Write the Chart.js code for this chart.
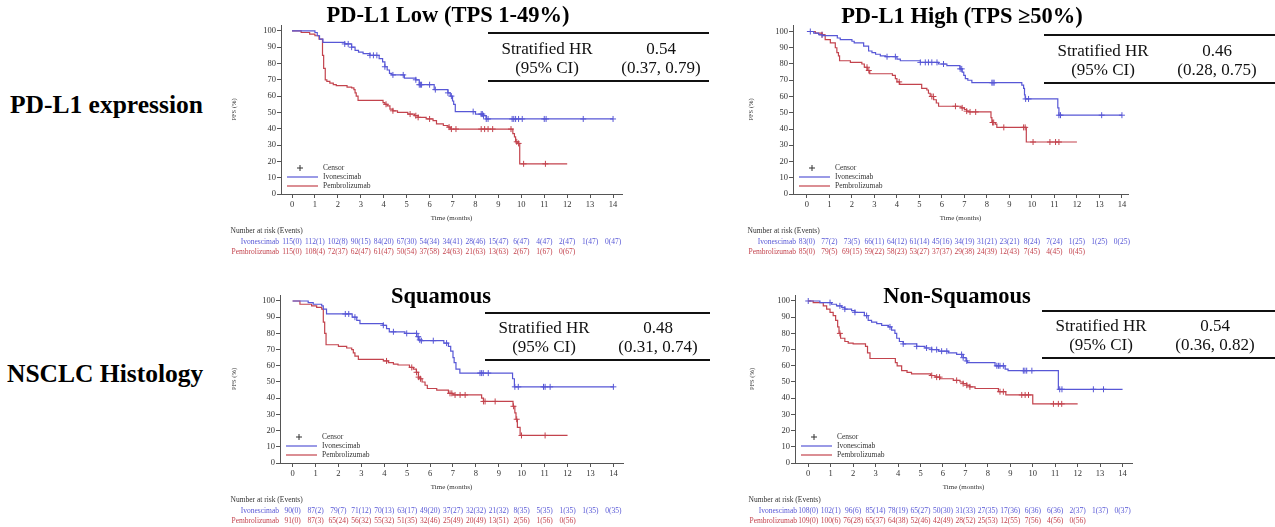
<!DOCTYPE html>
<html>
<head>
<meta charset="utf-8">
<script src="https://cdn.jsdelivr.net/npm/chart.js@4.4.1/dist/chart.umd.min.js"></script>
<style>
  html, body { margin: 0; padding: 0; background: #fff; }
  body { width: 1275px; height: 527px; position: relative; overflow: hidden; font-family: "Liberation Serif", "Times New Roman", serif; }
  canvas { position: absolute; }
  .rowlab { position: absolute; font-weight: bold; font-size: 25.5px; line-height: 1; color: #000; white-space: nowrap; }
  .ttl { position: absolute; width: 400px; text-align: center; font-weight: bold; font-size: 22.5px; line-height: 1; color: #000; white-space: nowrap; }
  .hr { position: absolute; border-top: 2px solid #111; border-bottom: 2px solid #111; height: 45.7px; }
  .hr div { position: absolute; top: 4.5px; text-align: center; font-size: 17px; line-height: 19px; color: #111; white-space: nowrap; }
</style>
</head>
<body>
<script>
// ticks
const xTicks = [0, 1, 2, 3, 4, 5, 6, 7, 8, 9, 10, 11, 12, 13, 14];
const yTicks = [0, 10, 20, 30, 40, 50, 60, 70, 80, 90, 100];

const rowLabels = ["PD-L1 expression", "NSCLC Histology"];
const panelTitles = ["PD-L1 Low (TPS 1-49%)", "PD-L1 High (TPS \u226550%)", "Squamous", "Non-Squamous"];
const hrValues = ["0.54", "0.46", "0.48", "0.54"];
const ciValues = ["(0.37, 0.79)", "(0.28, 0.75)", "(0.31, 0.74)", "(0.36, 0.82)"];

// KM curves [time, PFS %]
const lowIvo = [[0,100],[1.0,99],[1.1,97],[1.2,95],[1.35,93],[2.3,92],[2.6,90],[2.75,88],[2.9,87],[3.1,86],[3.4,85],[3.8,83],[3.95,81],[4.05,78],[4.15,76],[4.25,74],[4.35,73],[4.9,71],[5.4,70],[5.55,67],[6.2,64],[6.8,62],[6.9,60],[7.0,57],[7.05,55],[7.12,50.5],[8.0,49],[8.35,48],[8.47,46],[14,46]];
const lowPem = [[0,100],[0.4,99],[0.77,98],[1.0,97],[1.18,95],[1.33,85],[1.38,77],[1.45,70],[1.52,69],[1.65,68],[1.8,67],[1.93,66.4],[2.4,65.5],[2.6,65],[2.7,64],[2.75,62],[2.8,60],[2.88,57.4],[3.97,56],[4.05,55],[4.15,54],[4.27,52],[4.4,51],[4.6,50],[5.05,49],[5.35,48],[5.5,47],[5.85,46],[6.15,45],[6.3,43],[6.6,42],[6.8,41],[6.9,39.8],[9.63,37],[9.7,35],[9.75,32],[9.85,31],[9.93,18.5],[12,18.5]];
const highIvo = [[0,100],[0.3,99],[0.52,98],[0.7,97.5],[1.35,96],[1.48,95],[2.0,94],[2.1,93],[2.52,91],[2.74,88],[2.89,87],[3.05,86],[3.26,85],[3.5,84.5],[4.0,83],[4.15,82],[5.04,81],[5.85,80],[6.22,79],[6.8,77],[6.9,75],[6.97,73],[7.04,71],[7.15,70],[7.33,68.5],[9.55,67],[9.63,65],[9.67,61],[9.7,58.5],[11.15,53],[11.2,48.5],[14,48.5]];
const highPem = [[0,100],[0.37,99],[0.67,98],[0.81,95],[1.04,93],[1.26,90],[1.33,87],[1.4,85],[1.45,82],[1.93,81],[2.44,80],[2.55,78],[2.68,76],[2.79,74],[3.8,73],[3.93,71],[4.0,69],[4.12,67.5],[5.1,65],[5.33,64],[5.4,62],[5.48,60],[5.63,58],[5.75,56],[5.85,54],[6.85,53],[7.0,52],[7.1,51],[7.2,50.5],[8.18,47],[8.22,44],[8.37,43],[8.44,41],[9.75,32],[12,32]];
const sqIvo = [[0,100],[0.68,99],[0.9,98],[1.27,97],[1.34,95],[1.48,92],[2.6,90],[2.8,88],[2.94,86],[3.95,85],[4.1,83],[4.22,81],[4.9,80],[5.42,78],[5.49,76],[5.56,75.5],[6.6,74],[6.8,72],[6.9,69],[7.0,65],[7.05,62],[7.13,58],[7.3,55.5],[9.6,52],[9.68,47],[14,47]];
const sqPem = [[0,100],[0.32,98],[0.83,97],[1.05,96],[1.27,95],[1.34,87],[1.4,80],[1.46,73],[2.0,72],[2.36,71],[2.58,70],[2.65,68],[2.72,66],[2.87,64],[3.96,63],[4.18,62],[4.4,61],[4.6,60.5],[5.1,59],[5.27,58],[5.4,56],[5.49,53],[5.56,52],[5.65,50],[5.78,48],[5.88,46],[6.29,45],[6.8,43],[7.0,42],[8.25,40],[8.33,38],[9.62,35],[9.7,31],[9.75,27],[9.81,22],[9.93,17],[12,17]];
const nsqIvo = [[0,100],[0.52,99],[1.04,98],[1.26,97],[1.49,96],[1.63,95],[1.93,94],[2.08,93],[2.5,91],[2.67,88],[2.82,87],[3.05,86],[3.27,85],[3.57,84],[3.71,82],[3.86,80],[3.94,77],[4.06,75],[4.23,73.5],[4.83,72],[5.2,71],[5.5,70],[5.8,69],[6.24,68],[6.61,67],[6.9,65],[7.03,63],[7.09,62],[8.32,60],[8.77,58],[8.9,57],[11.14,45.5],[14,45.5]];
const nsqPem = [[0,100],[0.22,99],[0.67,97],[0.82,95],[0.97,93],[1.11,91],[1.22,88],[1.31,84],[1.37,80],[1.44,77],[1.63,75],[1.78,74],[2.0,73.5],[2.55,72],[2.64,68],[2.75,64.5],[3.88,62],[3.96,60],[4.16,57],[4.4,56],[4.6,55],[5.45,54],[5.65,53],[5.87,52],[6.46,51],[6.76,50],[6.9,49],[7.06,48],[7.2,47],[7.43,46],[8.47,44],[8.8,42],[10.0,36.5],[12,36.5]];

// censor times (months)
const lowIvoCens = [2.3,2.45,2.6,3.4,3.55,3.7,4.05,4.4,4.85,5.4,5.55,5.6,5.65,6.0,6.25,6.8,6.95,7.9,8.25,8.3,8.35,8.47,8.55,9.6,9.67,9.75,9.88,10.04,11.0,11.08,12.7,14];
const lowPemCens = [4.1,4.4,5.15,5.4,5.5,6.0,6.85,6.95,7.15,8.25,8.4,8.55,8.75,9.55,9.8,9.88,10.1,11.05];
const highIvoCens = [0.15,0.67,3.56,3.93,5.04,5.26,5.4,5.55,5.78,6.07,6.81,6.88,8.22,8.27,8.32,9.72,9.85,11.2,11.27,13.1,14];
const highPemCens = [0.67,2.67,2.75,4.1,5.55,5.62,6.6,6.9,7.1,7.25,7.5,8.25,8.3,8.75,9.63,9.7,10.05,10.8,11.05,11.2];
const sqIvoCens = [2.3,2.45,2.72,3.96,4.4,4.98,5.41,5.48,5.55,5.62,6.14,6.72,8.18,8.25,8.32,8.54,9.7,9.85,10.95,11.02,11.24,14];
const sqPemCens = [4.1,5.2,5.41,5.5,5.58,6.87,6.95,7.09,7.31,7.53,8.33,8.4,8.84,9.64,9.78,9.99,11.02];
const nsqIvoCens = [0,0.97,1.41,1.63,2.08,2.6,3.64,4.23,4.83,5.27,5.5,5.72,5.94,6.17,6.83,6.9,7.06,8.4,8.47,8.54,8.69,9.58,9.65,9.73,9.96,11.2,11.3,12.7,13.15];
const nsqPemCens = [1.41,5.5,5.72,5.85,6.61,6.9,7.06,7.2,8.54,8.69,9.51,9.66,9.81,10.92,11.14,11.29];

// number at risk [n, events] at xTicks
const lowIvoRisk = [[115,0],[112,1],[102,8],[90,15],[84,20],[67,30],[54,34],[34,41],[28,46],[15,47],[6,47],[4,47],[2,47],[1,47],[0,47]];
const lowPemRisk = [[115,0],[108,4],[72,37],[62,47],[61,47],[50,54],[37,58],[24,63],[21,63],[13,63],[2,67],[1,67],[0,67]];
const highIvoRisk = [[83,0],[77,2],[73,5],[66,11],[64,12],[61,14],[45,16],[34,19],[31,21],[23,21],[8,24],[7,24],[1,25],[1,25],[0,25]];
const highPemRisk = [[85,0],[79,5],[69,15],[59,22],[58,23],[53,27],[37,37],[29,38],[24,39],[12,43],[7,45],[4,45],[0,45]];
const sqIvoRisk = [[90,0],[87,2],[79,7],[71,12],[70,13],[63,17],[49,20],[37,27],[32,32],[21,32],[8,35],[5,35],[1,35],[1,35],[0,35]];
const sqPemRisk = [[91,0],[87,3],[65,24],[56,32],[55,32],[51,35],[32,46],[25,49],[20,49],[13,51],[2,56],[1,56],[0,56]];
const nsqIvoRisk = [[108,0],[102,1],[96,6],[85,14],[78,19],[65,27],[50,30],[31,33],[27,35],[17,36],[6,36],[6,36],[2,37],[1,37],[0,37]];
const nsqPemRisk = [[109,0],[100,6],[76,28],[65,37],[64,38],[52,46],[42,49],[28,52],[25,53],[12,55],[7,56],[4,56],[0,56]];

const BLUE = '#5757d6';
const RED = '#c3434d';
const SERIF = '"Liberation Serif", "Times New Roman", serif';

const panels = [
  { ivo: lowIvo, pem: lowPem, ivoC: lowIvoCens, pemC: lowPemCens, ivoR: lowIvoRisk, pemR: lowPemRisk },
  { ivo: highIvo, pem: highPem, ivoC: highIvoCens, pemC: highPemCens, ivoR: highIvoRisk, pemR: highPemRisk },
  { ivo: sqIvo, pem: sqPem, ivoC: sqIvoCens, pemC: sqPemCens, ivoR: sqIvoRisk, pemR: sqPemRisk },
  { ivo: nsqIvo, pem: nsqPem, ivoC: nsqIvoCens, pemC: nsqPemCens, ivoR: nsqIvoRisk, pemR: nsqPemRisk }
];

// layout of each panel (page pixels)
const boxes = [
  { left: 281, top: 23, right: 622, bottom: 194, yw: 51, lab: -2, xmin: -0.48, xmax: 14.39, ymax: 103.6, tx: 448, tb: 23.3, hx: 488, hy: 33.3, hw: 221 },
  { left: 793, top: 23, right: 1128, bottom: 194, yw: 46, lab: 3, xmin: -0.62, xmax: 14.27, ymax: 104, tx: 962, tb: 23.5, hx: 1044, hy: 35, hw: 231 },
  { left: 280, top: 293, right: 623, bottom: 463, yw: 50, lab: -1, xmin: -0.55, xmax: 14.42, ymax: 103.7, tx: 441, tb: 304, hx: 485, hy: 312.7, hw: 225 },
  { left: 795, top: 293, right: 1132, bottom: 463, yw: 47, lab: 2, xmin: -0.59, xmax: 14.42, ymax: 103.7, tx: 957, tb: 304, hx: 1042, hy: 310.7, hw: 233 }
];
const rowPos = [{ left: 10, top: 92 }, { left: 7, top: 361 }];

Chart.defaults.font.family = SERIF;

// survival value at time t on a step curve (censor marks sit on the curve)
function survAt(curve, t) {
  let s = curve[0][1];
  for (const [ti, si] of curve) { if (ti <= t) s = si; }
  return s;
}

function addDiv(cls, html, css) {
  const d = document.createElement('div');
  d.className = cls;
  d.innerHTML = html;
  Object.assign(d.style, css);
  document.body.appendChild(d);
  return d;
}

rowLabels.forEach((t, i) => addDiv('rowlab', t, { left: rowPos[i].left + 'px', top: rowPos[i].top + 'px' }));

panels.forEach((p, i) => {
  const b = boxes[i];
  const cLeft = b.left - b.yw, cTop = b.top - 3;
  const cw = b.right + 8 - cLeft, ch = b.bottom + 64 - cTop;
  const cv = document.createElement('canvas');
  cv.width = cw; cv.height = ch;
  cv.style.left = cLeft + 'px'; cv.style.top = cTop + 'px';
  cv.style.width = cw + 'px'; cv.style.height = ch + 'px';
  document.body.appendChild(cv);

  const extras = {
    id: 'kmExtras',
    afterDraw(chart) {
      const ctx = chart.ctx;
      const L = chart.chartArea.left, B = chart.chartArea.bottom;
      const xs = chart.scales.x;
      ctx.save();
      ctx.font = '7.5px ' + SERIF;
      ctx.textBaseline = 'middle';
      // legend
      ctx.strokeStyle = '#333'; ctx.lineWidth = 1;
      ctx.beginPath();
      ctx.moveTo(L + 16, B - 26); ctx.lineTo(L + 22, B - 26);
      ctx.moveTo(L + 19, B - 29); ctx.lineTo(L + 19, B - 23);
      ctx.stroke();
      ctx.lineWidth = 1.2;
      ctx.strokeStyle = BLUE;
      ctx.beginPath(); ctx.moveTo(L + 6, B - 17); ctx.lineTo(L + 37, B - 17); ctx.stroke();
      ctx.strokeStyle = RED;
      ctx.beginPath(); ctx.moveTo(L + 6, B - 8); ctx.lineTo(L + 37, B - 8); ctx.stroke();
      ctx.fillStyle = '#333'; ctx.textAlign = 'left';
      ctx.fillText('Censor', L + 42, B - 26);
      ctx.fillText('Ivonescimab', L + 42, B - 17);
      ctx.fillText('Pembrolizumab', L + 42, B - 8);
      // number at risk table
      ctx.fillText('Number at risk (Events)', 0.5, B + 37);
      ctx.textAlign = 'right';
      ctx.fillStyle = BLUE; ctx.fillText('Ivonescimab', L + b.lab, B + 48.5);
      ctx.fillStyle = RED; ctx.fillText('Pembrolizumab', L + b.lab, B + 58);
      ctx.textAlign = 'center';
      ctx.fillStyle = BLUE;
      p.ivoR.forEach(([n, e], k) => ctx.fillText(n + '(' + e + ')', xs.getPixelForValue(xTicks[k]), B + 48.5));
      ctx.fillStyle = RED;
      p.pemR.forEach(([n, e], k) => ctx.fillText(n + '(' + e + ')', xs.getPixelForValue(xTicks[k]), B + 58));
      ctx.restore();
    }
  };

  new Chart(cv.getContext('2d'), {
    type: 'line',
    data: {
      datasets: [
        { label: 'Ivonescimab', data: p.ivo.map(([x, y]) => ({ x, y })), borderColor: BLUE, borderWidth: 1.2, stepped: true, pointRadius: 0, fill: false },
        { label: 'Pembrolizumab', data: p.pem.map(([x, y]) => ({ x, y })), borderColor: RED, borderWidth: 1.2, stepped: true, pointRadius: 0, fill: false },
        { label: 'Censor', data: p.ivoC.map(t => ({ x: t, y: survAt(p.ivo, t) })), showLine: false, pointStyle: 'cross', pointRadius: 3, borderColor: BLUE, borderWidth: 1 },
        { label: 'Censor', data: p.pemC.map(t => ({ x: t, y: survAt(p.pem, t) })), showLine: false, pointStyle: 'cross', pointRadius: 3, borderColor: RED, borderWidth: 1 }
      ]
    },
    options: {
      responsive: false,
      animation: false,
      layout: { padding: { left: 0, top: 3, right: 8, bottom: 36 } },
      plugins: { legend: { display: false }, tooltip: { enabled: false } },
      scales: {
        x: {
          type: 'linear', min: b.xmin, max: b.xmax,
          afterBuildTicks: s => { s.ticks = xTicks.map(v => ({ value: v })); },
          afterFit: s => { s.height = 28; s.paddingLeft = 0; s.paddingRight = 0; },
          grid: { drawOnChartArea: false, tickLength: 4, color: '#555' },
          border: { color: '#555' },
          ticks: { font: { size: 8.5 }, color: '#333', padding: 1.5, maxRotation: 0, autoSkip: false },
          title: { display: true, text: 'Time (months)', font: { size: 7 }, color: '#333', padding: 0 }
        },
        y: {
          min: 0, max: b.ymax,
          afterBuildTicks: s => { s.ticks = yTicks.map(v => ({ value: v })); },
          afterFit: s => { s.width = b.yw; s.paddingTop = 0; s.paddingBottom = 0; },
          grid: { drawOnChartArea: false, tickLength: 4, color: '#555' },
          border: { color: '#555' },
          ticks: { font: { size: 8.5 }, color: '#333', padding: 1 },
          title: { display: true, text: 'PFS (%)', font: { size: 6.5 }, color: '#333', padding: 0 }
        }
      }
    },
    plugins: [extras]
  });

  // title and hazard ratio box
  addDiv('ttl', panelTitles[i], { left: (b.tx - 200) + 'px', top: (b.tb - 22.5 * 0.8375) + 'px' });
  addDiv('hr',
    '<div style="left:0;width:118px">Stratified HR<br>(95% CI)</div>' +
    '<div style="left:116px;width:114px">' + hrValues[i] + '<br>' + ciValues[i] + '</div>',
    { left: b.hx + 'px', top: (b.hy - 1) + 'px', width: b.hw + 'px' });
});
</script>
</body>
</html>
